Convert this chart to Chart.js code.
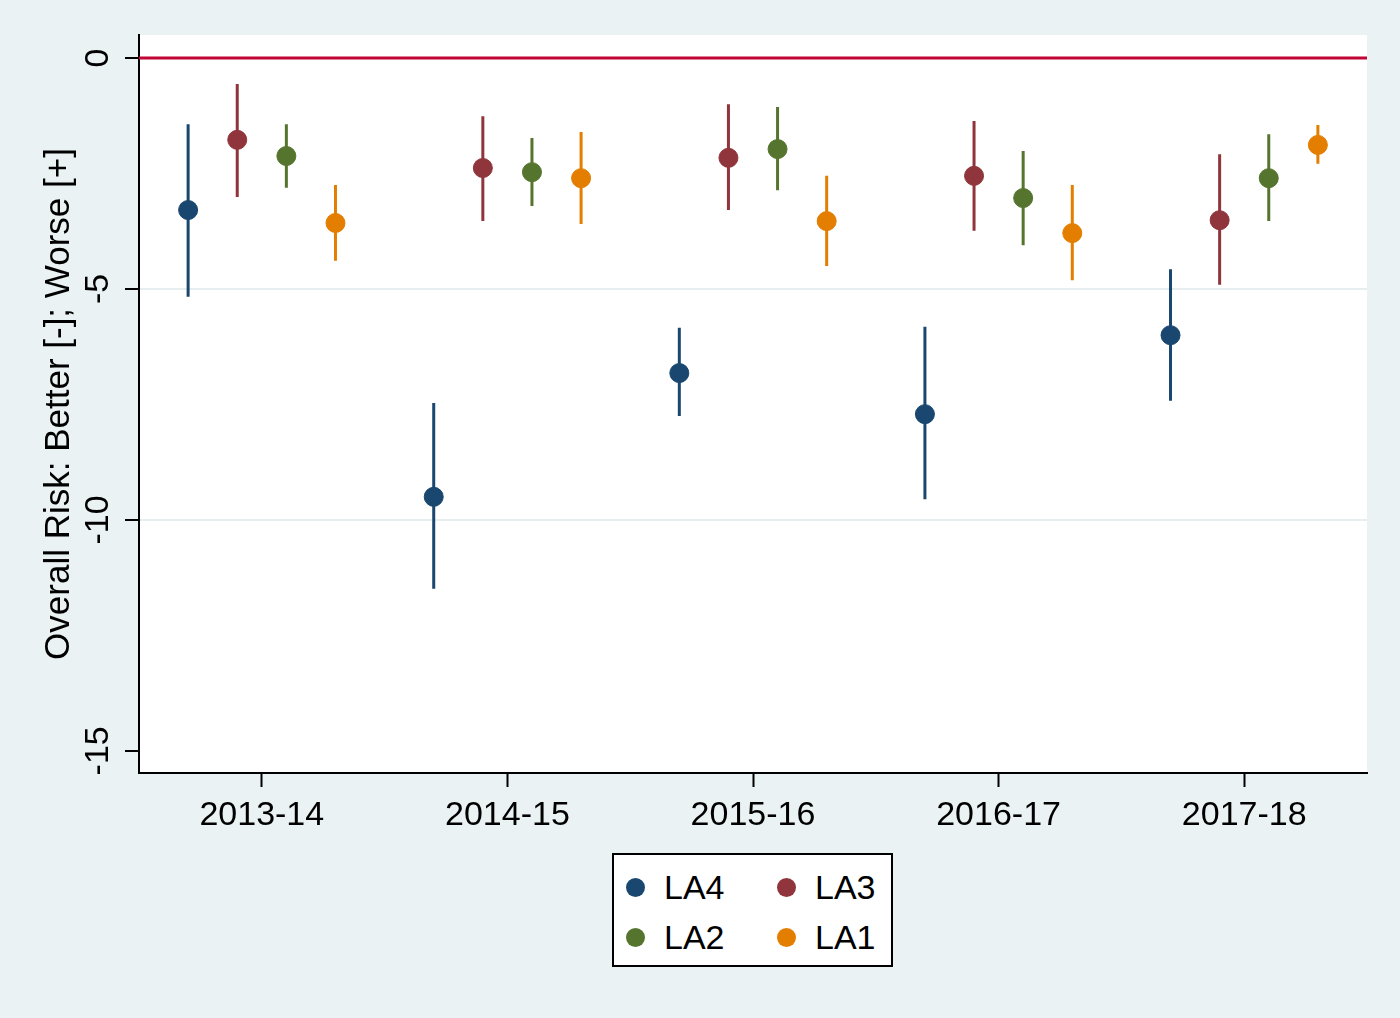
<!DOCTYPE html>
<html>
<head>
<meta charset="utf-8">
<script src="https://cdn.jsdelivr.net/npm/chart.js@4.4.1/dist/chart.umd.min.js"></script>
<style>
  body { margin: 0; background: #eaf2f3; }
  #wrap { position: relative; width: 1400px; height: 1018px; }
  #legend {
    position: absolute; left: 612px; top: 853px; width: 277px; height: 110px;
    background: #fff; border: 2px solid #000;
    font-family: "Liberation Sans", Arial, sans-serif; font-size: 34px; color: #000;
  }
  .item { position: absolute; height: 40px; line-height: 40px; }
  .dot { position: absolute; top: 11px; width: 19px; height: 19px; border-radius: 50%; }
  .lbl { position: absolute; left: 38px; top: 0; }
</style>
</head>
<body>
<div id="wrap">
  <canvas id="chart" width="1400" height="1018"></canvas>
  <div id="legend"></div>
</div>
<script>
const periods = ["2013-14", "2014-15", "2015-16", "2016-17", "2017-18"];
const yTicks = [0, -5, -10, -15];

// point estimates and 95% intervals per local authority
const la4 = [-3.29, -9.5, -6.82, -7.71, -6.0];
const la4Lo = [-5.17, -11.49, -7.75, -9.55, -7.42];
const la4Hi = [-1.43, -7.47, -5.84, -5.82, -4.57];

const la3 = [-1.77, -2.38, -2.16, -2.55, -3.51];
const la3Lo = [-3.01, -3.53, -3.29, -3.74, -4.91];
const la3Hi = [-0.56, -1.26, -1.0, -1.36, -2.08];

const la2 = [-2.12, -2.47, -1.97, -3.03, -2.6];
const la2Lo = [-2.81, -3.2, -2.86, -4.05, -3.53];
const la2Hi = [-1.43, -1.73, -1.06, -2.01, -1.65];

const la1 = [-3.57, -2.6, -3.53, -3.79, -1.88];
const la1Lo = [-4.39, -3.59, -4.5, -4.81, -2.29];
const la1Hi = [-2.75, -1.6, -2.55, -2.75, -1.45];

const series = [
  { name: "LA4", color: "#1a476f", est: la4, lo: la4Lo, hi: la4Hi, off: -0.3 },
  { name: "LA3", color: "#90353b", est: la3, lo: la3Lo, hi: la3Hi, off: -0.1 },
  { name: "LA2", color: "#55752f", est: la2, lo: la2Lo, hi: la2Hi, off: 0.1 },
  { name: "LA1", color: "#e37e00", est: la1, lo: la1Lo, hi: la1Hi, off: 0.3 },
];

const font = "'Liberation Sans', Arial, sans-serif";
const datasets = [];

// reference line at zero
datasets.push({
  type: "line",
  data: [{ x: -0.5, y: 0 }, { x: 4.5, y: 0 }],
  borderColor: "#c10534",
  borderWidth: 3,
  pointRadius: 0,
  order: 3,
});

series.forEach((s) => {
  const ci = [];
  s.est.forEach((v, i) => {
    ci.push({ x: i + s.off, y: s.lo[i] });
    ci.push({ x: i + s.off, y: s.hi[i] });
    ci.push({ x: i + s.off, y: null });
  });
  datasets.push({
    type: "line",
    data: ci,
    borderColor: s.color,
    borderWidth: 3,
    pointRadius: 0,
    spanGaps: false,
    order: 2,
  });
});

series.forEach((s) => {
  datasets.push({
    type: "scatter",
    data: s.est.map((v, i) => ({ x: i + s.off, y: v })),
    backgroundColor: s.color,
    borderColor: s.color,
    pointRadius: 9.5,
    pointHoverRadius: 9.5,
    order: 1,
  });
});

const plotBg = {
  id: "plotBg",
  beforeDraw(chart) {
    const { ctx, chartArea: a } = chart;
    ctx.save();
    ctx.fillStyle = "#eaf2f3";
    ctx.fillRect(0, 0, chart.width, chart.height);
    ctx.fillStyle = "#fff";
    ctx.fillRect(a.left, a.top, a.right - a.left, a.bottom - a.top);
    ctx.restore();
  },
  afterDraw(chart) {
    // rotated y tick labels, like Stata
    const { ctx } = chart;
    const y = chart.scales.y;
    ctx.save();
    ctx.fillStyle = "#000";
    ctx.font = "34px " + font;
    ctx.textAlign = "center";
    ctx.textBaseline = "middle";
    yTicks.forEach((t) => {
      ctx.save();
      ctx.translate(99, y.getPixelForValue(t));
      ctx.rotate(-Math.PI / 2);
      ctx.fillText(String(t), 0, 0);
      ctx.restore();
    });
    ctx.restore();
  },
};

new Chart(document.getElementById("chart"), {
  type: "scatter",
  data: { datasets: datasets },
  plugins: [plotBg],
  options: {
    responsive: false,
    devicePixelRatio: 1,
    animation: false,
    layout: { padding: { left: 0, top: 35, right: 33, bottom: 0 } },
    plugins: { legend: { display: false }, tooltip: { enabled: false } },
    scales: {
      x: {
        type: "linear",
        min: -0.5,
        max: 4.5,
        afterBuildTicks: (scale) => {
          scale.ticks = periods.map((p, i) => ({ value: i }));
        },
        afterFit: (scale) => {
          scale.height = 245;
        },
        ticks: {
          autoSkip: false,
          maxRotation: 0,
          padding: 8,
          color: "#000",
          font: { family: font, size: 34 },
          callback: (v) => periods[v],
        },
        grid: { drawOnChartArea: false, drawTicks: true, tickLength: 14, tickWidth: 2, tickColor: "#000" },
        border: { display: true, color: "#000", width: 2 },
      },
      y: {
        min: -15.48,
        max: 0.5,
        afterBuildTicks: (scale) => {
          scale.ticks = yTicks.map((v) => ({ value: v }));
        },
        afterFit: (scale) => {
          scale.width = 139;
        },
        ticks: { display: false },
        grid: {
          color: (c) => (c.tick && c.tick.value === -15 ? "rgba(0,0,0,0)" : "#e6eeef"),
          lineWidth: 2,
          drawTicks: true,
          tickLength: 14,
          tickWidth: 2,
          tickColor: "#000",
        },
        border: { display: true, color: "#000", width: 2 },
        title: {
          display: true,
          text: "Overall Risk: Better [-]; Worse [+]",
          color: "#000",
          font: { family: font, size: 35 },
          padding: { top: 38, bottom: 0 },
        },
      },
    },
  },
});

// legend, 2 columns inside a box
const legend = document.getElementById("legend");
series.forEach((s, i) => {
  const item = document.createElement("div");
  item.className = "item";
  item.style.left = (i % 2 === 0 ? 12 : 163) + "px";
  item.style.top = (i < 2 ? 12 : 62) + "px";
  item.innerHTML = '<span class="dot" style="background:' + s.color + '"></span><span class="lbl">' + s.name + "</span>";
  legend.appendChild(item);
});
</script>
</body>
</html>
